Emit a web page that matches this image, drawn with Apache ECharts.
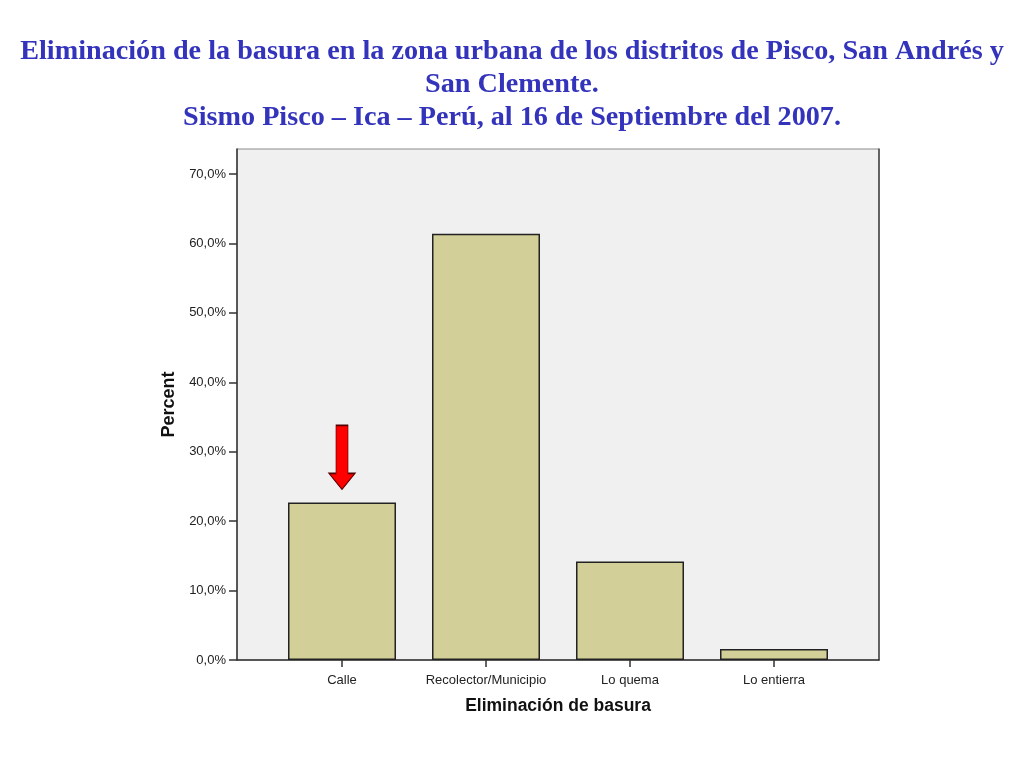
<!DOCTYPE html>
<html>
<head>
<meta charset="utf-8">
<script src="https://cdn.jsdelivr.net/npm/echarts@6/dist/echarts.min.js"></script>
<style>
html,body{margin:0;padding:0;background:#fff;}
#chart{width:1024px;height:768px;}
</style>
</head>
<body>
<div id="chart"></div>
<script>
const titleLines = [
  "Eliminación de la basura en la zona urbana de los distritos de Pisco, San Andrés y",
  "San Clemente.",
  "Sismo Pisco – Ica – Perú, al 16 de Septiembre del 2007."
];
const categories = ["Calle", "Recolector/Municipio", "Lo quema", "Lo entierra"];
const percentValues = [22.7, 61.4, 14.2, 1.6];
const highlighted = "Calle";
const yTicks = [0, 10, 20, 30, 40, 50, 60, 70];
const yMax = 73.6;

const chart = echarts.init(document.getElementById('chart'));
const fmt = v => v.toFixed(1).replace('.', ',') + '%';
const arrowPath = 'path://M7,0 L19,0 L19,48 L26,48 L13,64 L0,48 L7,48 Z';

chart.setOption({
  animation: false,
  backgroundColor: '#ffffff',
  title: {
    text: titleLines.join('\n'),
    left: 'center',
    top: 30,
    textStyle: {
      fontFamily: 'Liberation Serif',
      fontWeight: 'bold',
      fontSize: 28.2,
      color: '#3333bb',
      lineHeight: 33
    }
  },
  grid: [
    {left: 237, top: 149, width: 642, height: 511, show: true,
     backgroundColor: '#f0f0f0', borderColor: '#8a8a8a', borderWidth: 1},
    {left: 270, top: 149, width: 576, height: 511}
  ],
  xAxis: [
    {gridIndex: 0, type: 'value', min: 0, max: 1, show: true,
     axisLine: {show: true, onZero: false, lineStyle: {color: '#333', width: 1.5}},
     axisTick: {show: false}, axisLabel: {show: false}, splitLine: {show: false},
     name: 'Eliminación de basura', nameLocation: 'middle', nameGap: 37,
     nameTextStyle: {fontFamily: 'Liberation Sans', fontWeight: 'bold', fontSize: 17.5, color: '#111'}},
    {gridIndex: 1, type: 'category', data: categories,
     axisLine: {show: false},
     axisTick: {show: true, alignWithLabel: true, length: 7, lineStyle: {color: '#333', width: 1.5}},
     axisLabel: {fontFamily: 'Liberation Sans', fontSize: 13, color: '#222', margin: 14, interval: 0}}
  ],
  yAxis: [
    {gridIndex: 0, type: 'value', min: 0, max: yMax, interval: 10,
     axisLine: {show: true, lineStyle: {color: '#333', width: 1.5}},
     axisTick: {show: true, length: 8, lineStyle: {color: '#333', width: 1.5},
                customValues: yTicks},
     axisLabel: {fontFamily: 'Liberation Sans', fontSize: 13, color: '#222', margin: 11,
                 formatter: fmt, customValues: yTicks},
     splitLine: {show: false},
     name: 'Percent', nameLocation: 'middle', nameGap: 58,
     nameTextStyle: {fontFamily: 'Liberation Sans', fontWeight: 'bold', fontSize: 18, color: '#111'}},
    {gridIndex: 1, type: 'value', min: 0, max: yMax, show: false},
    {gridIndex: 0, type: 'value', min: 0, max: yMax, position: 'right',
     axisLine: {show: true, lineStyle: {color: '#444', width: 1.5}},
     axisTick: {show: false}, axisLabel: {show: false}, splitLine: {show: false}}
  ],
  series: [{
    type: 'bar',
    xAxisIndex: 1, yAxisIndex: 1,
    data: percentValues,
    barWidth: 108,
    itemStyle: {color: '#d3cf98', borderColor: '#222', borderWidth: 1.5},
    markPoint: {
      symbol: arrowPath,
      symbolSize: [26, 64],
      symbolOffset: [0, -45],
      silent: true,
      label: {show: false},
      itemStyle: {color: '#ff0000', borderColor: '#550000', borderWidth: 1},
      data: [{coord: [highlighted, percentValues[categories.indexOf(highlighted)]]}]
    }
  }]
});
</script>
</body>
</html>
